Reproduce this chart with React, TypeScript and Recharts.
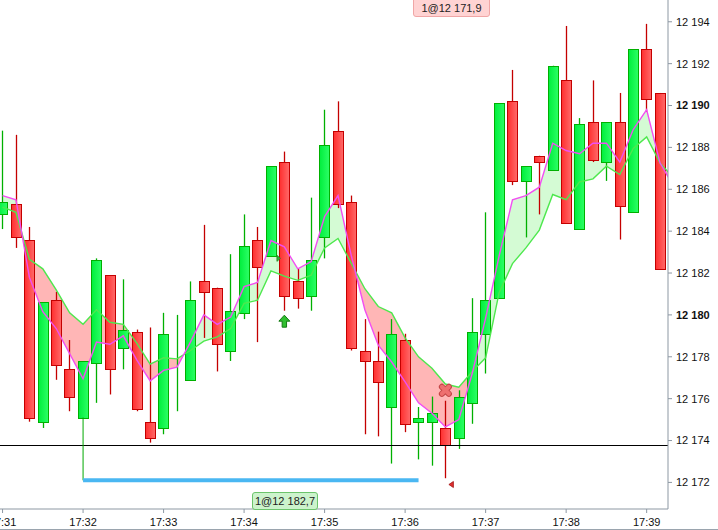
import React from 'react';
import { ComposedChart, Bar, Line, XAxis, YAxis, ReferenceLine, ReferenceDot, ReferenceArea } from 'recharts';

// ---- data (10-second candles, 17:31:00 .. 17:39:10) ----
const opens = [12184.8, 12185.3, 12183.6, 12174.9, 12180.7, 12177.4, 12175.1, 12177.7, 12181.9, 12178.4,
  12179.2, 12174.9, 12174.6, 12177.6, 12176.9, 12181.6, 12181.3, 12178.3, 12180.1, 12183.6,
  12182.8, 12187.3, 12181.6, 12180.9, 12183.7, 12188.8, 12185.4, 12178.3, 12177.8, 12175.6,
  12178.8, 12174.9, 12174.9, 12174.6, 12174.1, 12175.8, 12179.1, 12180.8, 12190.2, 12186.4,
  12187.6, 12186.9, 12191.2, 12184.1, 12189.2, 12187.3, 12189.2, 12184.9, 12192.7, 12190.6];
const highs = [12188.8, 12188.6, 12184.2, 12180.6, 12181.1, 12178.8, 12177.8, 12182.7, 12181.9, 12181.7,
  12179.3, 12179.4, 12180.1, 12180.0, 12181.6, 12184.3, 12181.3, 12182.9, 12184.8, 12184.2,
  12187.1, 12187.8, 12182.2, 12185.6, 12189.8, 12190.2, 12185.7, 12179.8, 12179.2, 12179.8,
  12179.1, 12175.6, 12176.1, 12175.9, 12176.4, 12180.8, 12184.9, 12190.1, 12191.7, 12187.1,
  12187.6, 12191.9, 12193.8, 12189.4, 12191.2, 12189.2, 12190.6, 12192.7, 12193.9, 12190.6];
const lows = [12184.1, 12183.2, 12174.9, 12174.6, 12176.9, 12175.4, 12175.1, 12175.8, 12176.2, 12177.4,
  12175.4, 12173.9, 12174.3, 12175.4, 12176.9, 12178.9, 12177.3, 12177.8, 12179.8, 12178.7,
  12182.8, 12180.2, 12180.3, 12180.2, 12182.7, 12185.1, 12178.3, 12174.3, 12174.2, 12172.9,
  12174.4, 12173.1, 12172.8, 12172.2, 12173.6, 12174.8, 12177.2, 12180.8, 12186.2, 12183.7,
  12184.8, 12186.9, 12184.4, 12184.1, 12187.3, 12186.4, 12183.6, 12184.9, 12189.7, 12182.2];
const closes = [12185.4, 12183.7, 12175.1, 12180.6, 12177.6, 12176.1, 12177.8, 12182.6, 12177.4, 12179.3,
  12175.5, 12174.1, 12179.1, 12177.6, 12180.7, 12181.1, 12178.6, 12180.2, 12183.3, 12182.3,
  12187.1, 12180.9, 12180.8, 12182.6, 12188.1, 12185.3, 12178.4, 12177.8, 12176.8, 12179.1,
  12174.8, 12175.1, 12175.3, 12173.8, 12176.1, 12179.2, 12180.7, 12190.1, 12186.4, 12187.1,
  12187.3, 12191.9, 12184.4, 12189.1, 12187.4, 12189.2, 12185.2, 12192.7, 12190.3, 12182.2];

// fast (magenta) and slow (green) averages, one extra value beyond the last bar
const fastMA = [12185.7, 12185.5, 12181.8, 12180.15, 12179.35, 12178.15, 12176.95, 12178.7, 12178.6, 12179.0,
  12177.85, 12176.85, 12177.35, 12177.5, 12178.7, 12180.0, 12179.55, 12179.9, 12181.35, 12181.55,
  12183.55, 12183.25, 12182.2, 12182.55, 12184.7, 12185.7, 12182.8, 12180.25, 12178.55, 12177.75,
  12176.8, 12175.8, 12175.3, 12174.65, 12175.0, 12177.2, 12179.85, 12182.8, 12185.5, 12185.7,
  12186.1, 12188.2, 12187.85, 12187.7, 12188.2, 12188.2, 12187.3, 12188.85, 12189.8, 12187.25, 12186.15];
const slowMA = [12185.15, 12184.9, 12182.65, 12182.2, 12181.2, 12180.1, 12179.55, 12180.25, 12179.65, 12179.55,
  12178.65, 12177.65, 12177.95, 12177.9, 12178.3, 12178.75, 12178.95, 12179.35, 12180.55, 12180.7,
  12182.1, 12181.85, 12181.65, 12181.9, 12183.2, 12183.65, 12182.45, 12181.25, 12180.4, 12180.1,
  12178.9, 12178.0, 12177.45, 12176.7, 12176.55, 12177.3, 12177.95, 12181.05, 12182.45, 12183.2,
  12184.05, 12185.75, 12185.5, 12186.35, 12186.5, 12187.1, 12186.7, 12187.95, 12188.5, 12187.25, 12186.55];

const timeTicks = [0, 6, 12, 18, 24, 30, 36, 42, 48];
const timeLabels = ['17:31', '17:32', '17:33', '17:34', '17:35', '17:36', '17:37', '17:38', '17:39'];
const priceTicks = [12172, 12174, 12176, 12178, 12180, 12182, 12184, 12186, 12188, 12190, 12192, 12194];

const X_DOMAIN: [number, number] = [-0.19, 49.59];
const Y_DOMAIN: [number, number] = [12170.73, 12195.04];

const lastPrice = 12173.74;
const stopLevel = 12172.1;
const entryBar = 6;
const exitBar = 31;
const entryPrice = 12182.7;
const exitPrice = 12171.9;
const entryMarkBar = 20;
const exitMarkBar = 33;
const signalUpBar = 21;
const signalUpPrice = 12179.7;
const signalXBar = 33;
const signalXPrice = 12176.4;
const entryLabel = '1@12 182,7';
const exitLabel = '1@12 171,9';

const rows = fastMA.map((p, i) => ({
  i,
  o: i < opens.length ? opens[i] : null,
  h: i < highs.length ? highs[i] : null,
  l: i < lows.length ? lows[i] : null,
  c: i < closes.length ? closes[i] : null,
  fast: p,
  slow: slowMA[i],
}));

const FONT = '"Liberation Sans", Arial, sans-serif';
const AXIS = '#8d98a3';

const fmtPrice = (v: number) => {
  const th = Math.floor(v / 1000);
  const rest = String(Math.round(v - th * 1000)).padStart(3, '0');
  return `${th} ${rest}`;
};

const PriceTick = (props: any) => {
  const { x, y, payload } = props;
  const v = payload.value;
  const bold = v % 10 === 0;
  return (
    <text x={x} y={y} dy="0.355em" textAnchor="start" fontFamily={FONT} fontSize={11}
      fontWeight={bold ? 'bold' : 'normal'} fill="#111">
      {fmtPrice(v)}
    </text>
  );
};

const Candle = (props: any) => {
  const { x, y, width, height, payload } = props;
  if (!payload || payload.o == null) return <g />;
  const { o, h, l, c } = payload;
  const top = Math.min(y, y + height);
  const span = Math.abs(height);
  const k = span / (h - l);
  const py = (v: number) => top + (h - v) * k;
  const cx = Math.round(x + width / 2) + 0.5;
  const up = c >= o;
  const bt = Math.round(py(Math.max(o, c))) + 0.5;
  const bb = Math.round(py(Math.min(o, c))) + 0.5;
  const edge = up ? '#00b000' : '#c40000';
  return (
    <g>
      <line x1={cx} x2={cx} y1={top} y2={top + span} stroke={edge} strokeWidth={1.3} />
      <rect x={cx - 5} y={bt} width={10} height={Math.max(bb - bt, 0)}
        fill={up ? 'url(#candleUp)' : 'url(#candleDn)'} stroke={edge} strokeWidth={1} />
    </g>
  );
};

// Band fill between the two averages; the pixel mapping comes from the library's
// ReferenceArea rectangle, which spans exactly the axis domains.
const BandFill = (props: any) => {
  const { x, y, width, height } = props;
  if (![x, y, width, height].every((v) => Number.isFinite(v))) return <g />;
  const xAt = (v: number) => x + ((v - X_DOMAIN[0]) / (X_DOMAIN[1] - X_DOMAIN[0])) * width;
  const yAt = (v: number) => y + ((Y_DOMAIN[1] - v) / (Y_DOMAIN[1] - Y_DOMAIN[0])) * height;
  const pts = fastMA.map((p, i) => ({ x: xAt(i), p: yAt(p), g: yAt(slowMA[i]), d: p - slowMA[i] }));
  type Pt = { x: number; p: number; g: number };
  const runs: { s: number; seg: Pt[] }[] = [];
  let cur: { s: number; seg: Pt[] } | null = null;
  pts.forEach((q, i) => {
    const s = q.d > 0 ? 1 : q.d < 0 ? -1 : cur ? cur.s : 1;
    if (!cur) { cur = { s, seg: [q] }; return; }
    if (s === cur.s) { cur.seg.push(q); return; }
    const prev = pts[i - 1];
    const t = prev.d / (prev.d - q.d);
    const xc = prev.x + t * (q.x - prev.x);
    const yc = prev.p + t * (q.p - prev.p);
    const cross = { x: xc, p: yc, g: yc };
    cur.seg.push(cross);
    runs.push(cur);
    cur = { s, seg: [cross, q] };
  });
  if (cur) runs.push(cur);
  return (
    <g>
      <defs>
        <clipPath id="bandClip">
          <rect x={x} y={y} width={width} height={height} />
        </clipPath>
      </defs>
      <g clipPath="url(#bandClip)">
        {runs.map((r, k) => {
          const fwd = r.seg.map((q, j) => `${j ? 'L' : 'M'}${q.x},${q.p}`).join('');
          const back = r.seg.slice().reverse().map((q) => `L${q.x},${q.g}`).join('');
          return <path key={k} d={fwd + back + 'Z'} fill={r.s > 0 ? '#d4fbd4' : '#ffb6b6'} stroke="none" />;
        })}
      </g>
    </g>
  );
};

const UpArrow = (props: any) => {
  const { cx, cy } = props;
  const d = `M${cx - 2.2},${cy + 6} L${cx - 2.2},${cy} L${cx - 5.5},${cy} L${cx},${cy - 6} L${cx + 5.5},${cy} L${cx + 2.2},${cy} L${cx + 2.2},${cy + 6} Z`;
  return <path d={d} fill="#2fbf2f" stroke="#137a13" strokeWidth={1} />;
};

const EntryMark = (props: any) => {
  const { cx, cy } = props;
  return <path d={`M${cx + 6},${cy - 3} L${cx + 9.5},${cy} L${cx + 6},${cy + 3} Z`} fill="#35b535" stroke="#1f7f1f" strokeWidth={0.8} />;
};

const ExitMark = (props: any) => {
  const { cx, cy } = props;
  return <path d={`M${cx + 3.5},${cy} L${cx + 8},${cy - 3} L${cx + 8},${cy + 3} Z`} fill="#e03030" stroke="#a01010" strokeWidth={0.8} />;
};

const XMark = (props: any) => {
  const { cx, cy } = props;
  return (
    <g>
      <line x1={cx - 3.5} y1={cy - 3.5} x2={cx + 3.5} y2={cy + 3.5} stroke="#c24545" strokeWidth={6} strokeLinecap="round" />
      <line x1={cx - 3.5} y1={cy + 3.5} x2={cx + 3.5} y2={cy - 3.5} stroke="#c24545" strokeWidth={6} strokeLinecap="round" />
      <line x1={cx - 3.5} y1={cy - 3.5} x2={cx + 3.5} y2={cy + 3.5} stroke="#ee6f6f" strokeWidth={4} strokeLinecap="round" />
      <line x1={cx - 3.5} y1={cy + 3.5} x2={cx + 3.5} y2={cy - 3.5} stroke="#ee6f6f" strokeWidth={4} strokeLinecap="round" />
    </g>
  );
};

const labelBox = (bg: string, border: string): React.CSSProperties => ({
  position: 'absolute',
  boxSizing: 'border-box',
  background: bg,
  border: `1px solid ${border}`,
  borderRadius: 3,
  fontFamily: FONT,
  fontSize: 11,
  color: '#222',
  textAlign: 'center',
  whiteSpace: 'nowrap',
});

export default function App() {
  return (
    <div style={{ position: 'fixed', left: 0, top: 0, width: 718, height: 530, background: '#fff', overflow: 'hidden' }}>
      <ComposedChart width={718} height={530} data={rows} margin={{ top: 0, right: 0, bottom: 0, left: 0 }}>
        <defs>
          <linearGradient id="candleUp" x1="0" y1="0" x2="1" y2="0">
            <stop offset="0%" stopColor="#00ee3c" />
            <stop offset="100%" stopColor="#2cff66" />
          </linearGradient>
          <linearGradient id="candleDn" x1="0" y1="0" x2="1" y2="0">
            <stop offset="0%" stopColor="#ff2e2e" />
            <stop offset="100%" stopColor="#ff6a6a" />
          </linearGradient>
        </defs>
        <XAxis type="number" dataKey="i" domain={X_DOMAIN} allowDataOverflow ticks={timeTicks} interval={0}
          tickFormatter={(v: number) => timeLabels[timeTicks.indexOf(v)] ?? ''}
          height={21} tickSize={4} tickMargin={5} stroke={AXIS}
          tick={{ fill: '#111', fontSize: 11, fontFamily: FONT }} />
        <YAxis orientation="right" type="number" domain={Y_DOMAIN} allowDataOverflow ticks={priceTicks} interval={0}
          width={50} tickSize={4} tickMargin={4} stroke={AXIS} tick={<PriceTick />} />
        <ReferenceArea x1={X_DOMAIN[0]} x2={X_DOMAIN[1]} y1={Y_DOMAIN[0]} y2={Y_DOMAIN[1]} shape={<BandFill />} />
        <ReferenceLine y={lastPrice} stroke="#000" strokeWidth={1} shapeRendering="crispEdges" />
        <ReferenceLine segment={[{ x: entryBar, y: opens[entryBar] }, { x: entryBar, y: stopLevel }]} stroke="#00a800" strokeWidth={1} />
        <ReferenceLine segment={[{ x: entryBar, y: stopLevel }, { x: exitBar, y: stopLevel }]} stroke="#4ab7f2" strokeWidth={4} />
        <Bar dataKey={(d: any) => (d.o == null ? null : [d.l, d.h])} barSize={11} shape={<Candle />} isAnimationActive={false} />
        <Line dataKey="slow" type="linear" stroke="#4ee84e" strokeWidth={1.4} dot={false} activeDot={false} isAnimationActive={false} />
        <Line dataKey="fast" type="linear" stroke="#f24ef2" strokeWidth={1.4} dot={false} activeDot={false} isAnimationActive={false} />
        <ReferenceDot x={signalUpBar} y={signalUpPrice} shape={<UpArrow />} />
        <ReferenceDot x={entryMarkBar} y={entryPrice} shape={<EntryMark />} />
        <ReferenceDot x={exitMarkBar} y={exitPrice} shape={<ExitMark />} />
        <ReferenceDot x={signalXBar} y={signalXPrice} shape={<XMark />} />
      </ComposedChart>
      <div style={{ position: 'absolute', left: 0, top: 529, width: 718, height: 1, background: '#9aa4ae' }} />
      <div style={{ ...labelBox('#ffd3d3', '#f0a6a6'), left: 413, top: -3, width: 77, height: 20, lineHeight: '20px' }}>{exitLabel}</div>
      <div style={{ ...labelBox('#ccf3cc', '#6cc46c'), left: 252, top: 492, width: 66, height: 18, lineHeight: '17px' }}>{entryLabel}</div>
    </div>
  );
}
